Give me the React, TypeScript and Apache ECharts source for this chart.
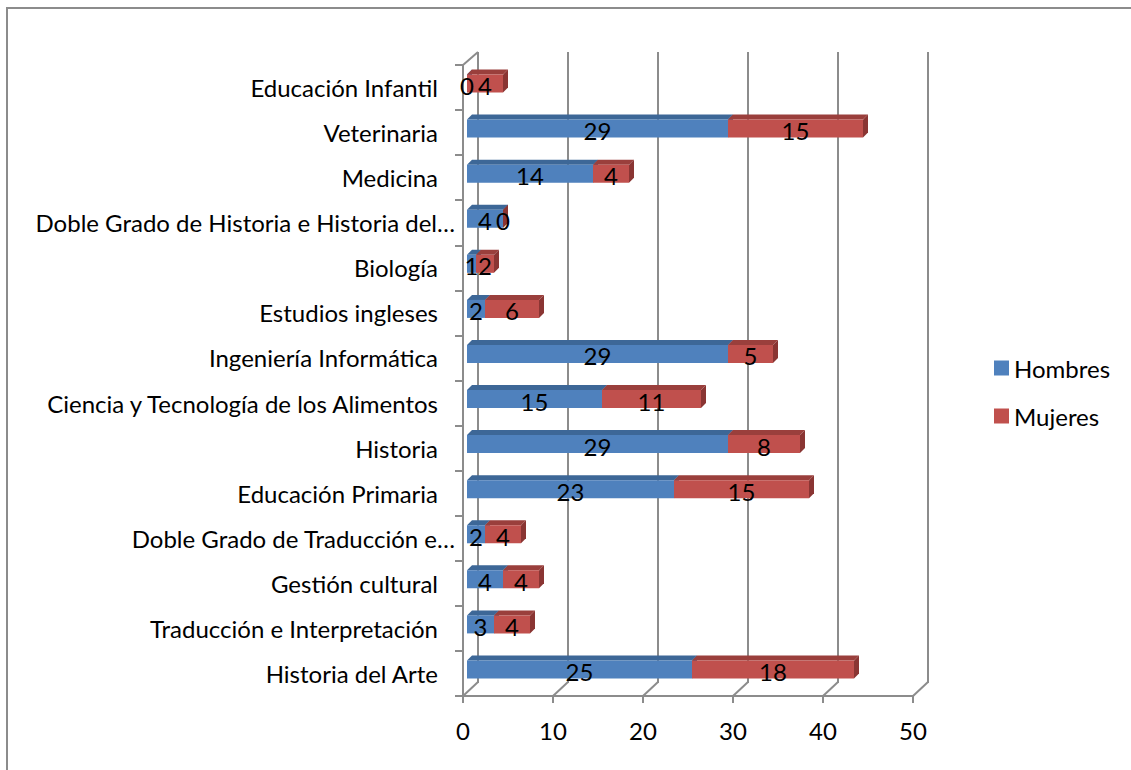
import React, { useEffect, useRef } from "react";
import * as echarts from "echarts";

const categories = [
  "Historia del Arte",
  "Traducción e Interpretación",
  "Gestión cultural",
  "Doble Grado de Traducción e…",
  "Educación Primaria",
  "Historia",
  "Ciencia y Tecnología de los Alimentos",
  "Ingeniería Informática",
  "Estudios ingleses",
  "Biología",
  "Doble Grado de Historia e Historia del…",
  "Medicina",
  "Veterinaria",
  "Educación Infantil",
];
const hombres = [25, 3, 4, 2, 23, 29, 15, 29, 2, 1, 4, 14, 29, 0];
const mujeres = [18, 4, 4, 4, 15, 8, 11, 5, 6, 2, 0, 4, 15, 4];
const xTicks = [0, 10, 20, 30, 40, 50];
const seriesNames = ["Hombres", "Mujeres"];

const BLUE = "#4F81BD";
const BLUE_TOP = "#3D6797";
const RED = "#C0504D";
const RED_TOP = "#9A3F3C";
const RED_SIDE = "#8A3533";
const BLUE_SIDE = "#36598A";
const GRAY = "#8C8C8C";
const FONT = "Lato";
const FS = 24;

const BAR_DX = 4;
const BAR_DY = -4;
const DEPTH = 5;

export default function App() {
  const ref = useRef<HTMLDivElement>(null);
  useEffect(() => {
    document.body.style.margin = "0";
    const chart = echarts.init(ref.current!, null, { renderer: "svg" });

    const segData = (which: number) =>
      categories.map((_, i) => {
        const start = which === 0 ? 0 : hombres[i];
        const end = which === 0 ? hombres[i] : hombres[i] + mujeres[i];
        return [start, end, i, which === 0 ? hombres[i] : mujeres[i]];
      });

    const makeBarRender = (front: string, top: string, side: string) =>
      (params: any, api: any) => {
        const start = api.value(0);
        const end = api.value(1);
        const idx = api.value(2);
        const p0 = api.coord([start, idx]);
        const p1 = api.coord([end, idx]);
        const bandH = api.size([0, 1])[1];
        const h = bandH * 0.4;
        const x = p0[0] + BAR_DX;
        const w = p1[0] - p0[0];
        const y = p0[1] + BAR_DY - h / 2;
        const children: any[] = [];
        if (w > 0) {
          children.push({
            type: "polygon",
            shape: { points: [[x, y], [x + DEPTH, y - DEPTH], [x + w + DEPTH, y - DEPTH], [x + w, y]] },
            style: { fill: top },
          });
          children.push({
            type: "rect",
            shape: { x, y, width: w, height: h },
            style: { fill: front },
          });
        }
        children.push({
          type: "polygon",
          shape: { points: [[x + w, y], [x + w + DEPTH, y - DEPTH], [x + w + DEPTH, y + h - DEPTH], [x + w, y + h]] },
          style: { fill: side },
        });
        return { type: "group", children };
      };

    const labelData = [...segData(0), ...segData(1)];

    const option: any = {
      animation: false,
      color: [BLUE, RED],
      grid: [
        { left: 463, top: 65, width: 450, height: 631 },
        { left: 478, top: 52, width: 450, height: 631 },
      ],
      legend: {
        orient: "vertical",
        left: 994,
        top: 356,
        padding: 0,
        icon: "rect",
        itemWidth: 15,
        itemHeight: 15,
        itemGap: 24,
        textStyle: { fontSize: FS, fontFamily: FONT, color: "#000", lineHeight: 24 },
        data: [
          { name: seriesNames[0], itemStyle: { color: BLUE } },
          { name: seriesNames[1], itemStyle: { color: RED } },
        ],
      },
      graphic: [
        {
          type: "rect",
          shape: { x: 7, y: 8, width: 1300, height: 1000 },
          style: { fill: "none", stroke: GRAY, lineWidth: 2 },
          silent: true,
        },
      ],
      xAxis: [
        {
          gridIndex: 0,
          type: "value",
          min: 0,
          max: 50,
          interval: 10,
          axisLine: { show: true, lineStyle: { color: GRAY, width: 2 } },
          axisTick: { show: true, length: 7, lineStyle: { color: GRAY, width: 2 } },
          splitLine: { show: false },
          axisLabel: { fontSize: FS, fontFamily: FONT, color: "#000", margin: 22 },
        },
        {
          gridIndex: 1,
          type: "value",
          min: 0,
          max: 50,
          interval: 10,
          axisLine: { show: false },
          axisTick: { show: false },
          axisLabel: { show: false },
          splitLine: { show: true, lineStyle: { color: GRAY, width: 2 } },
        },
      ],
      yAxis: [
        {
          gridIndex: 0,
          type: "category",
          data: categories,
          axisLine: { show: true, lineStyle: { color: GRAY, width: 2 } },
          axisTick: { show: true, length: 8, lineStyle: { color: GRAY, width: 2 } },
          axisLabel: {
            margin: 8,
            fontSize: FS,
            fontFamily: FONT,
            color: "#000",
            formatter: (v: string) => (v.endsWith("…") ? `{l|${v}}` : `{n|${v}}`),
            rich: {
              n: { fontSize: FS, fontFamily: FONT, color: "#000", padding: [0, 17, 0, 0] },
              l: { fontSize: FS, fontFamily: FONT, color: "#000" },
            },
          },
        },
        { gridIndex: 1, type: "category", data: categories, show: false },
      ],
      series: [
        {
          name: "frame",
          type: "custom",
          xAxisIndex: 0,
          yAxisIndex: 0,
          silent: true,
          z: 1,
          data: xTicks.map((v) => [v, 0]),
          renderItem: (params: any, api: any) => {
            const v = api.value(0);
            const p = api.coord([v, 0]);
            const bandH = api.size([0, 1])[1];
            const yb = p[1] + bandH / 2;
            const children: any[] = [
              {
                type: "line",
                shape: { x1: p[0], y1: yb, x2: p[0] + 15, y2: yb - 14 },
                style: { stroke: GRAY, lineWidth: 2 },
              },
            ];
            if (v === 0) {
              const pt = api.coord([0, categories.length - 1]);
              const yt = pt[1] - bandH / 2;
              children.push({
                type: "line",
                shape: { x1: pt[0], y1: yt, x2: pt[0] + 15, y2: yt - 13 },
                style: { stroke: GRAY, lineWidth: 2 },
              });
            }
            return { type: "group", children };
          },
        },
        {
          name: seriesNames[0],
          type: "custom",
          xAxisIndex: 0,
          yAxisIndex: 0,
          z: 3,
          itemStyle: { color: BLUE },
          data: segData(0),
          renderItem: makeBarRender(BLUE, BLUE_TOP, BLUE_SIDE),
        },
        {
          name: seriesNames[1],
          type: "custom",
          xAxisIndex: 0,
          yAxisIndex: 0,
          z: 4,
          itemStyle: { color: RED },
          data: segData(1),
          renderItem: makeBarRender(RED, RED_TOP, RED_SIDE),
        },
        {
          name: "labels",
          type: "custom",
          xAxisIndex: 0,
          yAxisIndex: 0,
          z: 6,
          silent: true,
          data: labelData,
          renderItem: (params: any, api: any) => {
            const start = api.value(0);
            const end = api.value(1);
            const idx = api.value(2);
            const val = api.value(3);
            const p0 = api.coord([start, idx]);
            const p1 = api.coord([end, idx]);
            return {
              type: "text",
              style: {
                text: String(val),
                x: (p0[0] + p1[0]) / 2 + BAR_DX,
                y: p0[1] + BAR_DY + 2,
                align: "center",
                verticalAlign: "middle",
                fontSize: FS,
                fontFamily: FONT,
                fill: "#000",
              },
            };
          },
        },
      ],
    };
    chart.setOption(option);
    return () => chart.dispose();
  }, []);
  return <div ref={ref} style={{ width: 1131, height: 770 }} />;
}
